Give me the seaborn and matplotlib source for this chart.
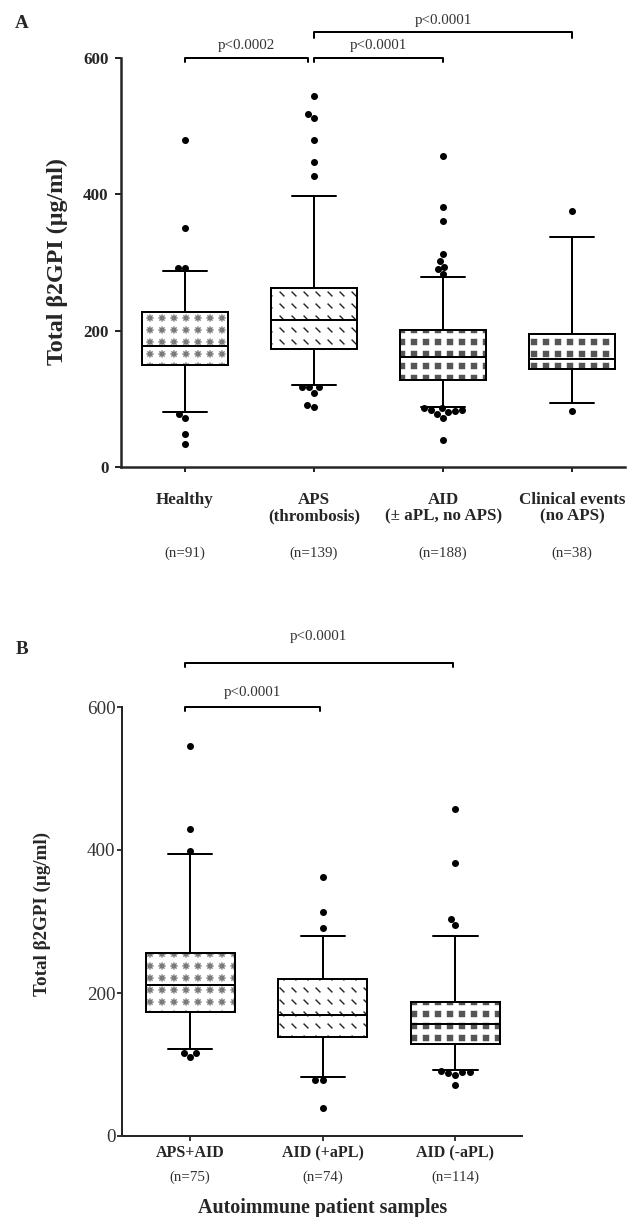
import numpy as np
import pandas as pd
import matplotlib
matplotlib.use("Agg")
import matplotlib.pyplot as plt
import matplotlib.hatch as mhatch
from matplotlib.path import Path
from matplotlib.colors import to_rgba
import seaborn as sns

# ---------------- panel A values ----------------
groups_a = ["Healthy", "APS\n(thrombosis)", "AID\n(± aPL, no APS)", "Clinical events\n(no APS)"]
n_a = ["(n=91)", "(n=139)", "(n=188)", "(n=38)"]
whislo_a = [80, 120, 88, 94]
q1_a = [149, 173, 128, 143]
med_a = [177, 216, 161, 158]
q3_a = [227, 262, 201, 195]
whishi_a = [288, 397, 278, 338]
out_healthy = [480, 350, 292, 292, 77, 72, 48, 34]
out_aps = [545, 518, 512, 480, 448, 427, 117, 117, 117, 109, 90, 88]
out_aid = [456, 382, 361, 313, 302, 294, 290, 283, 86, 86, 84, 84, 82, 80, 78, 72, 39]
out_clin = [375, 82]

# ---------------- panel B values ----------------
groups_b = ["APS+AID", "AID (+aPL)", "AID (-aPL)"]
n_b = ["(n=75)", "(n=74)", "(n=114)"]
whislo_b = [122, 82, 92]
q1_b = [173, 139, 128]
med_b = [211, 169, 156]
q3_b = [256, 219, 187]
whishi_b = [395, 280, 280]
out_apsaid = [546, 429, 398, 116, 116, 110]
out_pos = [362, 313, 291, 79, 79, 39]
out_neg = [457, 382, 303, 295, 91, 90, 89, 88, 86, 72]


# custom hatch marks laid out on a plain grid
class GridMarks(mhatch.HatchPatternBase):
    char = "*"
    size = 0.4
    verts = [[0, 0]]
    codes = [Path.MOVETO]

    def __init__(self, hatch, density):
        self.num_rows = hatch.count(self.char) * density
        self.num_vertices = self.num_rows ** 2 * len(self.verts)

    def set_vertices_and_codes(self, vertices, codes):
        step = 1.0 / self.num_rows
        shape = np.asarray(self.verts, float) * step * self.size
        n = len(shape)
        k = 0
        for r in range(self.num_rows):
            for c in range(self.num_rows):
                vertices[k:k + n] = shape + [(c + 0.5) * step, (r + 0.5) * step]
                codes[k:k + n] = self.codes
                k += n


M, L, C = Path.MOVETO, Path.LINETO, Path.CLOSEPOLY


class Asterisks(GridMarks):
    char = "*"
    size = 0.5
    verts = [[-.5, 0], [.5, 0], [0, -.5], [0, .5], [-.35, -.35], [.35, .35], [-.35, .35], [.35, -.35]]
    codes = [M, L, M, L, M, L, M, L]


class Dashes(GridMarks):
    char = "o"
    size = 0.32
    verts = [[-.5, .5], [.5, -.5]]
    codes = [M, L]


class Squares(GridMarks):
    char = "O"
    size = 0.42
    verts = [[-.5, -.5], [.5, -.5], [.5, .5], [-.5, .5], [-.5, -.5]]
    codes = [M, L, L, L, C]


mhatch._hatch_types = [t for t in mhatch._hatch_types
                       if t not in (mhatch.SmallCircles, mhatch.LargeCircles, mhatch.Stars)]
mhatch._hatch_types += [Asterisks, Dashes, Squares]


def box_frame(groups, lo, q1, med, q3, hi):
    # five numbers per group -> percentiles 0/25/50/75/100 reproduce them exactly
    rows = []
    for g, a, b, c, d, e in zip(groups, lo, q1, med, q3, hi):
        for v in (a, b, c, d, e):
            rows.append({"group": g, "value": v})
    return pd.DataFrame(rows)


def point_frame(groups, outs):
    rows = []
    for g, vals in zip(groups, outs):
        for v in vals:
            rows.append({"group": g, "value": v})
    return pd.DataFrame(rows)


def bracket(ax, x1, x2, y, drop, label, ty, fs):
    ax.plot([x1, x1, x2, x2], [y - drop, y, y, y - drop], color="black", lw=2, clip_on=False)
    ax.text((x1 + x2) / 2, ty, label, ha="center", va="center", fontsize=fs,
            color="#333333", clip_on=False)


sns.set_style("white")
plt.rcParams["font.family"] = ["Liberation Serif", "DejaVu Serif"]
plt.rcParams["hatch.linewidth"] = 1.4

W, H = 643, 1217
fig = plt.figure(figsize=(W / 72, H / 72), dpi=72)

# ---------------- panel A ----------------
ax1 = fig.add_axes([120.5 / W, 1 - 466.7 / H, (625 - 120.5) / W, (466.7 - 58.3) / H])
sns.boxplot(data=box_frame(groups_a, whislo_a, q1_a, med_a, q3_a, whishi_a), x="group", y="value",
            order=groups_a, whis=(0, 100), width=0.67, color="white", linecolor="black",
            linewidth=2, showfliers=False, saturation=1, ax=ax1)
sns.swarmplot(data=point_frame(groups_a, [out_healthy, out_aps, out_aid, out_clin]),
              x="group", y="value", order=groups_a, color="black", size=7, ax=ax1)
for patch, h, hc in zip(ax1.patches, ["*", "o", "O", "O"], ["#7a7a7a", "#222222", "#555555", "#555555"]):
    patch.set_hatch(h)
    patch._hatch_color = to_rgba(hc)

ax1.set_xlim(-0.5, 3.41)
ax1.set_ylim(0, 600)
ax1.set_yticks([0, 200, 400, 600])
ax1.set_xlabel("")
ax1.set_ylabel("")
sns.despine(ax=ax1)
for s in ("left", "bottom"):
    ax1.spines[s].set_linewidth(2.5)
ax1.tick_params(axis="y", direction="out", length=6, width=2, labelsize=17, pad=6, left=True)
ax1.tick_params(axis="x", direction="out", length=5, width=2, labelsize=17, pad=20, bottom=True)
for lab in ax1.get_xticklabels() + ax1.get_yticklabels():
    lab.set_fontweight("bold")
for lab in ax1.get_xticklabels():
    lab.set_linespacing(1.05)
for i, t in enumerate(n_a):
    ax1.text(i, -0.211, t, transform=ax1.get_xaxis_transform(), ha="center", va="center",
             fontsize=15, color="#333333")

bracket(ax1, 0, 0.95, 601, 7, "p<0.0002", 619, 15)
bracket(ax1, 1.0, 2, 601, 7, "p<0.0001", 619, 15)
bracket(ax1, 1.0, 3, 638, 8, "p<0.0001", 656, 15)

fig.text(57 / W, 1 - 262 / H, "Total β2GPI (µg/ml)", rotation=90, ha="center", va="center",
         fontsize=24, fontweight="bold")
fig.text(22 / W, 1 - 23 / H, "A", ha="center", va="center", fontsize=19, fontweight="bold")

# ---------------- panel B ----------------
ax2 = fig.add_axes([122.5 / W, 1 - 1136 / H, (521.7 - 122.5) / W, (1136 - 707) / H])
sns.boxplot(data=box_frame(groups_b, whislo_b, q1_b, med_b, q3_b, whishi_b), x="group", y="value",
            order=groups_b, whis=(0, 100), width=0.67, color="white", linecolor="black",
            linewidth=2, showfliers=False, saturation=1, ax=ax2)
sns.swarmplot(data=point_frame(groups_b, [out_apsaid, out_pos, out_neg]),
              x="group", y="value", order=groups_b, color="black", size=7, ax=ax2)
for patch, h, hc in zip(ax2.patches, ["*", "o", "O"], ["#7a7a7a", "#222222", "#555555"]):
    patch.set_hatch(h)
    patch._hatch_color = to_rgba(hc)

ax2.set_xlim(-0.51, 2.50)
ax2.set_ylim(0, 600)
ax2.set_yticks([0, 200, 400, 600])
ax2.set_xlabel("")
ax2.set_ylabel("")
sns.despine(ax=ax2)
for s in ("left", "bottom"):
    ax2.spines[s].set_linewidth(2)
ax2.tick_params(axis="y", direction="out", length=5, width=1.8, labelsize=19, pad=2,
                labelcolor="#333333", left=True)
ax2.tick_params(axis="x", direction="out", length=5, width=1.8, labelsize=16, pad=4, bottom=True)
for lab in ax2.get_xticklabels():
    lab.set_fontweight("bold")
for i, t in enumerate(n_b):
    ax2.text(i, -0.097, t, transform=ax2.get_xaxis_transform(), ha="center", va="center",
             fontsize=15, color="#333333")
ax2.text(1.0, -0.167, "Autoimmune patient samples", transform=ax2.get_xaxis_transform(),
         ha="center", va="center", fontsize=20, fontweight="bold")

bracket(ax2, -0.04, 0.98, 600, 6, "p<0.0001", 620, 15)
bracket(ax2, -0.04, 1.98, 662, 6, "p<0.0001", 698, 15)

fig.text(42 / W, 1 - 914 / H, "Total β2GPI (µg/ml)", rotation=90, ha="center", va="center",
         fontsize=19, fontweight="bold")
fig.text(22 / W, 1 - 650 / H, "B", ha="center", va="center", fontsize=19, fontweight="bold")

fig.savefig("out.png", dpi=72)
